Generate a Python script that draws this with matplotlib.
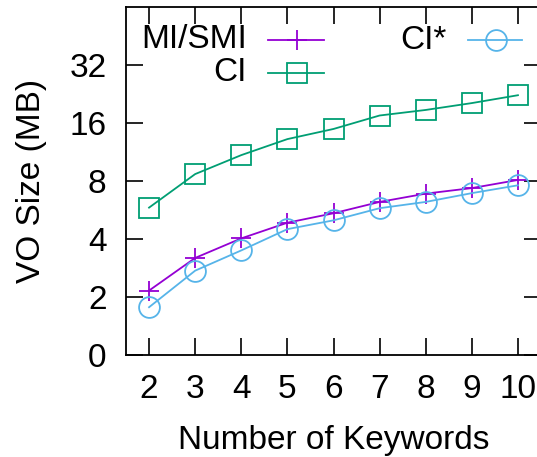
import numpy as np
import matplotlib
matplotlib.use("Agg")
import matplotlib.pyplot as plt
from matplotlib.ticker import FixedLocator, FixedFormatter

plt.rcParams['font.family'] = ['Liberation Sans', 'DejaVu Sans']

keywords = [2, 3, 4, 5, 6, 7, 8, 9, 10]
mi_smi = [2.16, 3.19, 4.03, 4.86, 5.44, 6.23, 6.88, 7.35, 8.1]
ci = [5.82, 8.69, 10.9, 13.2, 14.9, 17.5, 18.7, 20.3, 22.3]
ci_star = [1.77, 2.74, 3.49, 4.5, 5.0, 5.78, 6.23, 6.92, 7.6]

y_ticks = [1, 2, 4, 8, 16, 32]
y_labels = ['0', '2', '4', '8', '16', '32']

purple = '#9400D3'
green = '#009E73'
blue = '#56B4E9'
fs = 24

fig = plt.figure(figsize=(5.37, 4.57), dpi=100)
# right spine sits just past the edge of the canvas
ax = fig.add_axes([126 / 537, 102 / 457, 415 / 537, 348 / 457])

ax.plot(keywords, mi_smi, color=purple, lw=1.3, marker='+', ms=15, mew=1.3)
ax.plot(keywords, ci, color=green, lw=1.3, marker='s', ms=14, mfc='none', mew=1.3)
ax.plot(keywords, ci_star, color=blue, lw=1.3, marker='o', ms=15, mfc='none', mew=1.3)

ax.set_yscale('log', base=2)
ax.set_ylim(1, 64)
ax.set_xlim(1.5, 10.5)
ax.yaxis.set_major_locator(FixedLocator(y_ticks))
ax.yaxis.set_major_formatter(FixedFormatter(y_labels))
ax.yaxis.set_minor_locator(FixedLocator([]))
ax.set_xticks(keywords)

ax.tick_params(direction='in', length=12, width=1.2, labelsize=fs,
               top=True, right=True, pad=14)
ax.tick_params(axis='x', pad=14)
for s in ax.spines.values():
    s.set_linewidth(1.3)

ax.set_xlabel('Number of Keywords', fontsize=fs, labelpad=14)
ax.set_ylabel('VO Size (MB)', fontsize=fs, labelpad=16)

# gnuplot-style key: label right-aligned, sample to its right
tr = ax.transAxes
ax.text(0.2916, 0.908, 'MI/SMI', transform=tr, ha='right', va='center', fontsize=fs)
ax.plot([0.342, 0.477], [0.905, 0.905], transform=tr, color=purple, lw=1.3)
ax.plot([0.412], [0.905], transform=tr, color=purple, marker='+', ms=15, mew=1.3)
ax.text(0.2916, 0.813, 'CI', transform=tr, ha='right', va='center', fontsize=fs)
ax.plot([0.342, 0.477], [0.810, 0.810], transform=tr, color=green, lw=1.3)
ax.plot([0.412], [0.810], transform=tr, color=green, marker='s', ms=14, mfc='none', mew=1.3)
ax.text(0.7735, 0.905, 'CI*', transform=tr, ha='right', va='center', fontsize=fs)
ax.plot([0.824, 0.954], [0.905, 0.905], transform=tr, color=blue, lw=1.3)
ax.plot([0.8916], [0.905], transform=tr, color=blue, marker='o', ms=15, mfc='none', mew=1.3)

fig.savefig('out.png', dpi=100)
